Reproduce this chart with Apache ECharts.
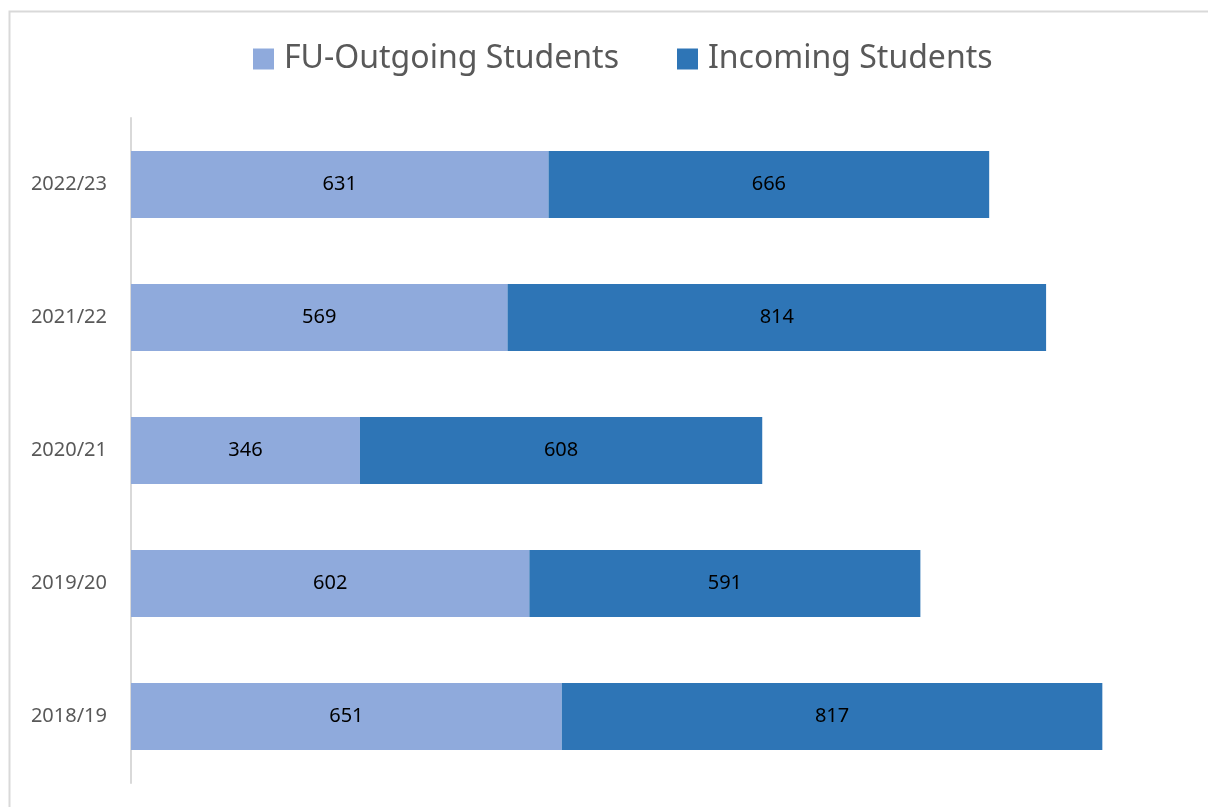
<!DOCTYPE html>
<html>
<head>
<meta charset="utf-8">
<script src="https://cdn.jsdelivr.net/npm/echarts@6/dist/echarts.min.js"></script>
<style>
  html, body { margin: 0; padding: 0; background: #fff; }
  #main { width: 1208px; height: 807px; }
</style>
</head>
<body>
<div id="main"></div>
<script>
// data
var years = ['2018/19', '2019/20', '2020/21', '2021/22', '2022/23'];
var outgoing = [651, 602, 346, 569, 631];
var incoming = [817, 591, 608, 814, 666];

var chart = echarts.init(document.getElementById('main'));

var labelStyle = {
    show: true,
    position: 'inside',
    color: '#000',
    fontSize: 20,
    fontFamily: 'Noto Sans'
};

var option = {
    animation: false,
    textStyle: { fontFamily: 'Noto Sans' },
    graphic: [{
        type: 'rect',
        shape: { x: 9.5, y: 11.5, width: 1210, height: 810 },
        style: { fill: 'none', stroke: '#d9d9d9', lineWidth: 2 },
        silent: true
    }],
    legend: {
        data: ['FU-Outgoing Students', 'Incoming Students'],
        left: 248,
        top: 38,
        itemWidth: 21,
        itemHeight: 21,
        itemGap: 58,
        icon: 'rect',
        textStyle: {
            fontSize: 32,
            color: '#595959',
            fontFamily: 'Noto Sans',
            padding: [0, 0, 0, 5]
        }
    },
    grid: {
        left: 131,
        top: 118,
        right: 17,
        bottom: 24,
        containLabel: false
    },
    xAxis: {
        type: 'value',
        min: 0,
        max: 1602,
        show: false
    },
    yAxis: {
        type: 'category',
        data: years,
        axisLine: { show: true, lineStyle: { color: '#d9d9d9', width: 2 } },
        axisTick: { show: false },
        axisLabel: { color: '#595959', fontSize: 20, margin: 24 },
        splitLine: { show: false }
    },
    series: [
        {
            name: 'FU-Outgoing Students',
            type: 'bar',
            stack: 'total',
            barWidth: 67,
            itemStyle: { color: '#8faadc' },
            label: labelStyle,
            data: outgoing
        },
        {
            name: 'Incoming Students',
            type: 'bar',
            stack: 'total',
            barWidth: 67,
            itemStyle: { color: '#2e75b6' },
            label: labelStyle,
            data: incoming
        }
    ]
};

chart.setOption(option);
</script>
</body>
</html>
